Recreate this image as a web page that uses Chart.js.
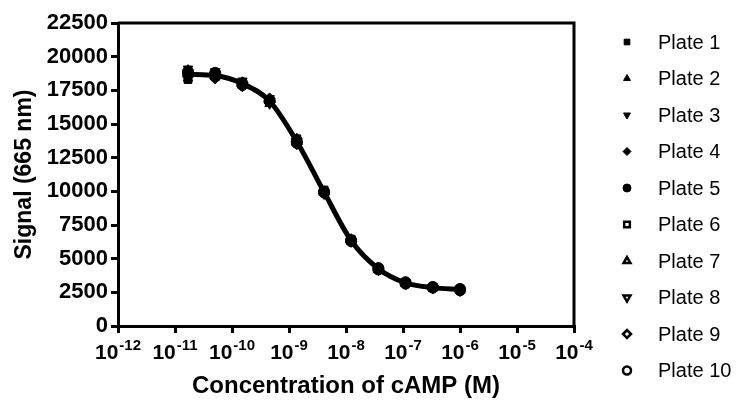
<!DOCTYPE html>
<html>
<head>
<meta charset="utf-8">
<script src="https://cdn.jsdelivr.net/npm/chart.js@4.4.1/dist/chart.umd.min.js"></script>
<style>
  html, body { margin: 0; padding: 0; background: #fff; }
  #wrap { width: 750px; height: 401px; position: relative; }
</style>
</head>
<body>
<div id="wrap"><canvas id="chart"></canvas></div>
<script>
const FONT = '"Liberation Sans", Arial, sans-serif';

// cAMP concentrations (M), 1:3 dilution from 1 uM
const concentrations = [1.69e-11, 5.08e-11, 1.52e-10, 4.57e-10, 1.37e-9, 4.12e-9, 1.23e-8, 3.70e-8, 1.11e-7, 3.33e-7, 1.0e-6];

// signal at 665 nm for each plate
const plate1 = [18900, 18700, 18100, 16800, 13900, 10100, 6450, 4300, 3250, 2900, 2750];
const plate2 = [18400, 18500, 17900, 16500, 13600, 9900, 6300, 4200, 3150, 2800, 2650];
const plate3 = [19100, 18900, 18200, 16900, 13800, 10000, 6400, 4250, 3200, 2850, 2700];
const plate4 = [18600, 18400, 17800, 16600, 13500, 9800, 6250, 4150, 3100, 2800, 2600];
const plate5 = [18800, 18700, 18000, 16700, 13700, 9950, 6350, 4300, 3250, 2900, 2750];
const plate6 = [18300, 18500, 18100, 16600, 13800, 10050, 6400, 4250, 3200, 2850, 2700];
const plate7 = [19000, 18800, 17900, 16800, 13600, 9900, 6300, 4200, 3150, 2850, 2650];
const plate8 = [18700, 18600, 18000, 16500, 13700, 9850, 6350, 4250, 3200, 2800, 2700];
const plate9 = [18500, 18400, 18100, 16900, 13900, 10000, 6450, 4300, 3250, 2900, 2750];
const plate10 = [18900, 18800, 17900, 16700, 13600, 9950, 6300, 4200, 3150, 2850, 2650];

// fitted curve (mean of plates)
const fitSignal = [18700, 18600, 18000, 16700, 13700, 9950, 6350, 4250, 3200, 2850, 2700];

const plateLabels = ['Plate 1', 'Plate 2', 'Plate 3', 'Plate 4', 'Plate 5', 'Plate 6', 'Plate 7', 'Plate 8', 'Plate 9', 'Plate 10'];
const plateValues = [plate1, plate2, plate3, plate4, plate5, plate6, plate7, plate8, plate9, plate10];
const plateStyles = ['rect', 'triangle', 'triangle', 'rectRot', 'circle', 'rect', 'triangle', 'triangle', 'rectRot', 'circle'];
const plateRotation = [0, 0, 180, 0, 0, 0, 0, 180, 0, 0];
const plateHollow = [false, false, false, false, false, true, true, true, true, true];

const xTickExponents = ['-12', '-11', '-10', '-9', '-8', '-7', '-6', '-5', '-4'];
const yMax = 22500;
const yStep = 2500;

const toPoints = vals => vals.map((v, i) => ({ x: concentrations[i], y: v }));

const datasets = plateValues.map((vals, i) => ({
    label: plateLabels[i],
    data: toPoints(vals),
    showLine: false,
    pointStyle: plateStyles[i],
    pointRotation: plateRotation[i],
    pointRadius: 5.5,
    pointBackgroundColor: '#000',
    pointBorderColor: '#000',
    pointBorderWidth: 1,
    legendFill: plateHollow[i] ? '#fff' : '#000',
    legendBorder: plateHollow[i] ? 2.5 : 1
}));

datasets.push({
    label: 'fit',
    data: toPoints(fitSignal),
    showLine: true,
    pointRadius: 0,
    borderColor: '#000',
    borderWidth: 5,
    cubicInterpolationMode: 'monotone'
});

// frame on top and right of the plot
const framePlugin = {
    id: 'frame',
    afterDraw(chart) {
        const { ctx, chartArea: a } = chart;
        ctx.save();
        ctx.strokeStyle = '#000';
        ctx.lineWidth = 3;
        ctx.beginPath();
        ctx.moveTo(a.left, a.top);
        ctx.lineTo(a.right, a.top);
        ctx.lineTo(a.right, a.bottom);
        ctx.stroke();
        ctx.restore();
    }
};

// 10^n labels with raised exponent
const powerLabels = {
    id: 'powerLabels',
    afterDraw(chart) {
        const { ctx } = chart;
        const x = chart.scales.x;
        ctx.save();
        ctx.fillStyle = '#000';
        ctx.textBaseline = 'alphabetic';
        ctx.textAlign = 'left';
        xTickExponents.forEach(exp => {
            const px = x.getPixelForValue(Math.pow(10, Number(exp)));
            ctx.font = 'bold 21px ' + FONT;
            const w1 = ctx.measureText('10').width;
            ctx.font = 'bold 15px ' + FONT;
            const w2 = ctx.measureText(exp).width;
            const left = px - (w1 + w2 + 1) / 2;
            ctx.font = 'bold 21px ' + FONT;
            ctx.fillText('10', left, 359);
            ctx.font = 'bold 15px ' + FONT;
            ctx.fillText(exp, left + w1 + 1, 350);
        });
        ctx.restore();
    }
};

const plateLegend = {
    id: 'plateLegend',
    afterDraw(chart) {
        const { ctx } = chart;
        ctx.save();
        chart.data.datasets.forEach((ds, i) => {
            if (!ds.label.startsWith('Plate')) return;
            const y = 42 + i * 36.5;
            ctx.fillStyle = ds.legendFill;
            ctx.strokeStyle = '#000';
            ctx.lineWidth = ds.legendBorder;
            Chart.helpers.drawPoint(ctx, {
                pointStyle: ds.pointStyle,
                rotation: ds.pointRotation,
                radius: 4,
                borderWidth: ds.legendBorder
            }, 627, y);
            ctx.fillStyle = '#000';
            ctx.font = '20px ' + FONT;
            ctx.textBaseline = 'middle';
            ctx.textAlign = 'left';
            ctx.fillText(ds.label, 658, y + 1);
        });
        ctx.restore();
    }
};

new Chart(document.getElementById('chart'), {
    type: 'scatter',
    data: { datasets },
    options: {
        responsive: true,
        maintainAspectRatio: false,
        animation: false,
        layout: { padding: { top: 23, right: 176, left: 0, bottom: 0 } },
        plugins: { legend: { display: false }, tooltip: { enabled: false } },
        scales: {
            x: {
                type: 'logarithmic',
                min: 1e-12,
                max: 1e-4,
                afterBuildTicks: s => { s.ticks = xTickExponents.map(e => ({ value: Math.pow(10, Number(e)) })); },
                afterFit: s => { s.height = 75; },
                ticks: { display: false },
                grid: { drawOnChartArea: false, drawTicks: true, tickLength: 7, color: '#000', lineWidth: 3 },
                border: { display: true, color: '#000', width: 3 },
                title: {
                    display: true,
                    text: 'Concentration of cAMP (M)',
                    color: '#000',
                    font: { family: FONT, size: 24, weight: 'bold' },
                    padding: { top: 0, bottom: 0 }
                }
            },
            y: {
                min: 0,
                max: yMax,
                afterFit: s => { s.width = 118; },
                ticks: {
                    stepSize: yStep,
                    color: '#000',
                    padding: 3,
                    callback: v => String(v),
                    font: { family: FONT, size: 22, weight: 'bold' }
                },
                grid: { drawOnChartArea: false, drawTicks: true, tickLength: 7, color: '#000', lineWidth: 3 },
                border: { display: true, color: '#000', width: 3 },
                title: {
                    display: true,
                    text: 'Signal (665 nm)',
                    color: '#000',
                    font: { family: FONT, size: 23, weight: 'bold' },
                    padding: { top: 11, bottom: 0 }
                }
            }
        }
    },
    plugins: [framePlugin, powerLabels, plateLegend]
});
</script>
</body>
</html>
